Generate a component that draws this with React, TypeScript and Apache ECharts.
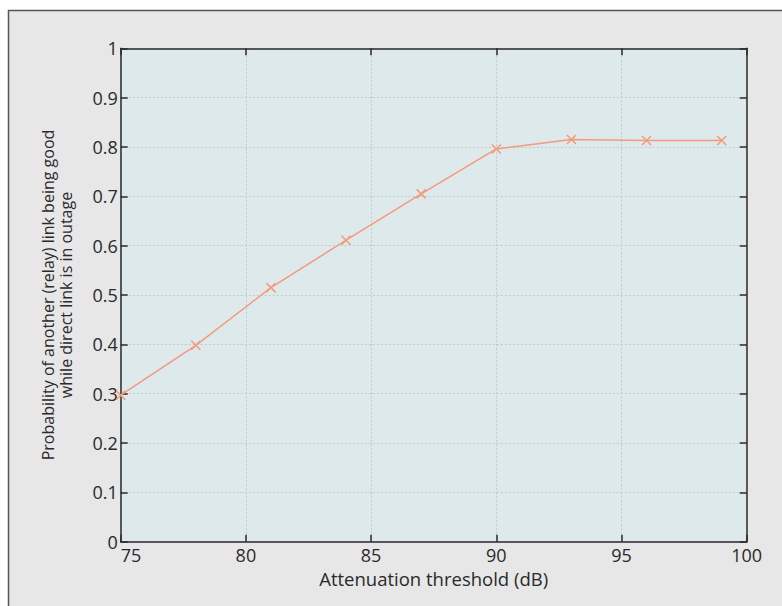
import React, { useEffect, useRef } from "react";
import * as echarts from "echarts";

const thresholds = [75, 78, 81, 84, 87, 90, 93, 96, 99];
const probability = [0.297, 0.398, 0.515, 0.611, 0.705, 0.796, 0.815, 0.813, 0.813];
const xTitle = "Attenuation threshold (dB)";
const yTitle = "Probability of another (relay) link being good\nwhile direct link is in outage";

const FONT = "Open Sans";
const TEXT = "#2a2a2a";
const AXIS = "#2b2b2b";

export default function App() {
  const ref = useRef<HTMLDivElement>(null);
  useEffect(() => {
    if (!ref.current) return;
    const chart = echarts.init(ref.current, undefined, { renderer: "svg" });
    const data = thresholds.map((x, i) => [x, probability[i]]);
    const axisLine = { show: true, onZero: false, lineStyle: { color: AXIS, width: 1.5 } };
    const tick = { show: true, inside: true, length: 7, lineStyle: { color: AXIS, width: 1.5 } };
    const grid = { show: true, lineStyle: { color: "#c4c9ca", type: [2, 2] as any, width: 1 } };
    chart.setOption({
      animation: false,
      backgroundColor: "#ffffff",
      graphic: [
        {
          type: "rect",
          z: -10,
          silent: true,
          shape: { x: 8.5, y: 10.5, width: 800, height: 620 },
          style: { fill: "#e6e7e6", stroke: "#555555", lineWidth: 1.5 },
        },
      ],
      grid: {
        left: 120.7,
        right: 35.3,
        top: 48.3,
        bottom: 64.3,
        show: true,
        backgroundColor: "#dde9ea",
        borderWidth: 0,
        z: 0,
      },
      xAxis: [
        {
          type: "value",
          min: 75,
          max: 100,
          interval: 5,
          position: "bottom",
          name: xTitle,
          nameLocation: "middle",
          nameGap: 27,
          nameTextStyle: { fontFamily: FONT, fontSize: 18.5, color: TEXT },
          axisLine,
          axisTick: tick,
          axisLabel: { fontFamily: FONT, fontSize: 18, color: TEXT, margin: 4, alignMinLabel: "left" },
          splitLine: grid,
        },
        {
          type: "value",
          min: 75,
          max: 100,
          interval: 5,
          position: "top",
          axisLine,
          axisTick: tick,
          axisLabel: { show: false },
          splitLine: { show: false },
        },
      ],
      yAxis: [
        {
          type: "value",
          min: 0,
          max: 1,
          interval: 0.1,
          position: "left",
          name: yTitle,
          nameLocation: "middle",
          nameGap: 46,
          nameTextStyle: { fontFamily: FONT, fontSize: 16, color: TEXT, lineHeight: 18 },
          axisLine,
          axisTick: tick,
          axisLabel: { fontFamily: FONT, fontSize: 18, color: TEXT, margin: 3 },
          splitLine: grid,
        },
        {
          type: "value",
          min: 0,
          max: 1,
          interval: 0.1,
          position: "right",
          axisLine,
          axisTick: tick,
          axisLabel: { show: false },
          splitLine: { show: false },
        },
      ],
      series: [
        {
          type: "line",
          xAxisIndex: 0,
          yAxisIndex: 0,
          data,
          symbol: "path://M0,0L10,10M10,0L0,10",
          symbolSize: 9,
          showAllSymbol: true,
          lineStyle: { color: "#f59a7c", width: 1.5 },
          itemStyle: { color: "none", borderColor: "#f59a7c", borderWidth: 1.5 },
          z: 5,
        },
      ],
    });
    return () => chart.dispose();
  }, []);
  return (
    <div
      ref={ref}
      style={{ position: "fixed", left: 0, top: 0, width: 782, height: 606 }}
    />
  );
}
